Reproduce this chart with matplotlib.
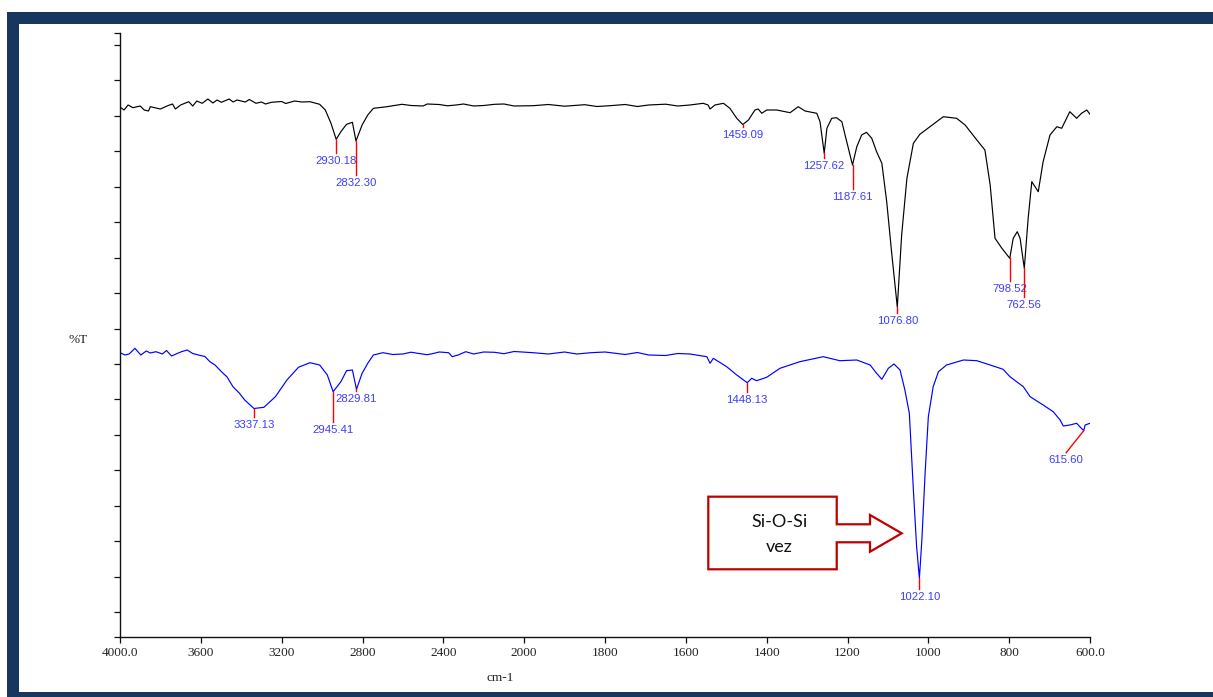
import numpy as np
import matplotlib
matplotlib.use("Agg")
import matplotlib.pyplot as plt
from matplotlib.patches import Rectangle, Polygon

# ---- spectra (wavenumber in cm-1, transmittance in arbitrary %T units) ----
black_wn = [4000, 3980, 3960, 3936, 3900, 3880, 3859, 3850, 3800, 3764, 3740, 3726,
            3700, 3660, 3640, 3620, 3593, 3565, 3540, 3520, 3498, 3460, 3440, 3421,
            3380, 3360, 3327, 3300, 3280, 3250, 3200, 3180, 3136, 3100, 3060, 3012,
            2984, 2956, 2930.18, 2907, 2879, 2850, 2832.30, 2802, 2774, 2746, 2679,
            2605, 2560, 2500, 2480, 2420, 2380, 2337, 2300, 2250, 2200, 2146, 2100,
            2050, 1978, 1940, 1900, 1883, 1850, 1820, 1788, 1750, 1720, 1692, 1650,
            1620, 1590, 1557,
            1545, 1540, 1528, 1507, 1491, 1474, 1459.09, 1445, 1429, 1421, 1412, 1400,
            1375, 1342, 1322, 1305, 1276, 1268, 1257.62, 1251, 1239, 1227, 1214, 1206,
            1187.61, 1177, 1165, 1153, 1140, 1128, 1115, 1103, 1091, 1076.80, 1066,
            1053, 1037, 1021, 996, 963, 930, 909, 880, 860, 847, 835, 818, 798.52, 790,
            780, 773, 762.56, 753, 744, 728, 716, 699, 682, 670, 650, 633, 621, 608, 600]
black_t = [530, 527, 532, 529.3, 531, 527, 526, 530.3, 528, 531.3, 533, 528,
           532, 535.3, 531, 536, 533.7, 538, 534, 537, 534.7, 538, 535, 537,
           535, 537.5, 533.7, 535, 533, 534.7, 535.5, 533.5, 536, 535, 535.3, 532.7,
           527, 513.7, 497.7, 505.3, 512.7, 514.7, 496, 512, 522, 528.7, 530.3,
           532.7, 531.5, 531, 533, 532.5, 531.2, 532, 533, 531, 531.5, 532.7, 533,
           531, 531.3, 532.5, 530.8, 531.3, 532.3, 530.5, 531.3, 532.5, 530.5, 532, 532.8,
           531, 532, 533.7,
           532, 528, 532, 533.7, 528.7, 518.7, 512.5, 517, 527, 528, 523.7, 527,
           527, 524.3, 530.3, 526, 523.7, 515.3, 483.7, 508.7, 518.7, 519.3, 515.3, 502,
           472, 490.3, 502, 504.7, 498.7, 485.3, 473.7, 435.3, 385.3, 330, 402,
           458.7, 493.7, 502.7, 510.3, 520.3, 518.7, 512, 497, 487, 452, 398.7, 388.7, 378.7, 398.7,
           405.3, 398.7, 368.7, 418.7, 455.3, 445.3, 475.3, 502, 510.3, 508.7, 525.3, 518.7, 523.7, 527, 522.7]

blue_wn = [4000, 3975, 3955, 3926, 3897, 3870, 3850, 3822, 3790, 3770, 3745, 3700,
           3668, 3640, 3612, 3580, 3555, 3530, 3498, 3470, 3441, 3410, 3383, 3337.13,
           3288, 3231, 3174, 3117,
           3060, 3012, 2974, 2945.41, 2907, 2879, 2850, 2829.81, 2802, 2774, 2746,
           2699, 2650, 2600, 2560, 2527, 2480, 2450, 2420, 2374, 2356, 2327, 2289,
           2250, 2200, 2146, 2100, 2050, 1978, 1940, 1900, 1870, 1835, 1800, 1750,
           1720, 1692, 1650, 1620,
           1590, 1548, 1540, 1532, 1499, 1474, 1448.13, 1437, 1425, 1400, 1367, 1318,
           1260, 1219, 1177, 1144, 1128, 1115, 1099, 1085, 1070, 1058, 1047, 1037,
           1029, 1022.10, 1016, 1008, 1000, 988, 975, 955, 913, 880, 847, 815, 798,
           765, 748, 716, 691, 674, 666, 650, 633, 615.60, 612, 600]
blue_t = [284.3, 282, 283, 288.7, 282, 286, 284, 285.3, 283, 286.5, 281, 285,
          287, 283.5, 282, 280.5, 275.3, 272, 265.3, 260, 250.3, 244, 237, 228.5,
          229.7, 240.3, 257, 269.7,
          274.3, 272, 262, 245.3, 255.3, 266.3, 267, 247.7, 263.7, 273.7, 282,
          284.3, 282.5, 283, 284.8, 283.7, 282.3, 283.5, 285, 284.3, 280.3, 282, 285.3,
          283, 285, 284.7, 283.3, 285.5, 284.3, 283, 285, 283, 284.3, 285, 282.5,
          284.5, 282, 281.5, 283.5,
          283, 280.3, 273.7, 278.7, 270.3, 262, 254.3, 258.7, 256.3, 259.7, 268.7, 275.3,
          280.3, 276.3, 277, 272, 263.7, 257.7, 268.7, 273, 267, 247, 223.7, 147,
          90.3, 58.7, 97, 163.7, 220.3, 250.3, 265.3, 272, 277, 276.3, 272, 267.7, 260.3,
          250.3, 240.3, 232, 225.3, 217, 211, 212, 213.7, 206.3, 212, 213.7]

# picked peaks and length of the red marker below each one
black_peaks = [2930.18, 2832.30, 1459.09, 1257.62, 1187.61, 1076.80, 798.52, 762.56]
black_drop = [14, 34, 2, 5, 24, 6, 23, 29]
blue_peaks = [3337.13, 2945.41, 2829.81, 1448.13, 1022.10]
blue_drop = [8, 30, 2, 9, 11]
side_peak = 615.60            # labelled with a slanted leader
side_leader = (659, 184.3)

xticks = [4000, 3600, 3200, 2800, 2400, 2000, 1800, 1600, 1400, 1200, 1000, 800, 600]
xtick_labels = ["4000.0", "3600", "3200", "2800", "2400", "2000", "1800", "1600",
                "1400", "1200", "1000", "800", "600.0"]


# region above 2000 cm-1 is compressed 2:1
def fwd(w):
    w = np.asarray(w, dtype=float)
    return np.where(w > 2000, 2000 + (w - 2000) / 2.0, w)


def inv(p):
    p = np.asarray(p, dtype=float)
    return np.where(p > 2000, 2000 + (p - 2000) * 2.0, p)


PEAK_BLUE = "#3c3cff"
NAVY = "#17375e"
SERIF = "Liberation Serif"
SANS = "Liberation Sans"

fig = plt.figure(figsize=(12.13, 6.97), dpi=100)
fig.patch.set_facecolor("white")

# dark frame around the slide
fig.add_artist(Rectangle((7 / 1213, 1 - 24 / 697), 1, 12 / 697, transform=fig.transFigure,
                         color=NAVY, lw=0, zorder=0))
fig.add_artist(Rectangle((7 / 1213, 0), 12 / 1213, 1 - 12 / 697, transform=fig.transFigure,
                         color=NAVY, lw=0, zorder=0))
fig.add_artist(Rectangle((7 / 1213, 0), 1, 5 / 697, transform=fig.transFigure,
                         color=NAVY, lw=0, zorder=0))

ax = fig.add_axes([120 / 1213, 60 / 697, 970 / 1213, 604 / 697])
ax.set_xscale("function", functions=(fwd, inv))
ax.set_xlim(4000, 600)
ax.set_ylim(0, 604)

ax.plot(black_wn, black_t, color="black", lw=0.85)
ax.plot(blue_wn, blue_t, color="#0000ff", lw=0.85)


def mark_peaks(wn, tr, peaks, drops, gap=8):
    order = np.argsort(wn)
    xs = np.asarray(wn)[order]
    ys = np.asarray(tr)[order]
    for p, d in zip(peaks, drops):
        tp = np.interp(p, xs, ys)
        ax.plot([p, p], [tp, tp - d], color="red", lw=1.0, zorder=3)
        ax.text(p, tp - d - gap, f"{p:.2f}", color=PEAK_BLUE, fontsize=8.2,
                family=SANS, ha="center", va="center")


mark_peaks(black_wn, black_t, black_peaks, black_drop)
mark_peaks(blue_wn, blue_t, blue_peaks, blue_drop)

tp = np.interp(side_peak, blue_wn[::-1], blue_t[::-1])
ax.plot([side_peak, side_leader[0]], [tp, side_leader[1]], color="red", lw=1.0)
ax.text(side_leader[0], side_leader[1] - 7.5, f"{side_peak:.2f}", color=PEAK_BLUE,
        fontsize=8.2, family=SANS, ha="center", va="center")

# axes styling
for s in ["top", "right"]:
    ax.spines[s].set_visible(False)
for s in ["left", "bottom"]:
    ax.spines[s].set_linewidth(1.0)
    ax.spines[s].set_color("#111111")

ax.xaxis.set_minor_locator(plt.NullLocator())
ax.set_xticks(xticks)
ax.set_xticklabels(xtick_labels, family=SERIF, fontsize=9.5, color="#222222")
ax.set_yticks(list(np.linspace(25, 592, 17)) + [0, 604])
ax.set_yticklabels([])
ax.tick_params(axis="both", direction="out", length=4, width=0.9, color="#111111", pad=3)

ax.set_xlabel("cm-1", family=SERIF, fontsize=9.5, color="#222222")
ax.xaxis.set_label_coords((500 - 120) / 970, -(672 - 637) / 604)
ax.set_ylabel("%T", family=SERIF, fontsize=9.5, color="#222222", rotation=0)
ax.yaxis.set_label_coords((78 - 120) / 970, (637 - 346) / 604)

# callout pointing at the Si-O-Si band
callout = [(0.6065, 0.2323), (0.7389, 0.2323), (0.7389, 0.1866), (0.7732, 0.1866),
           (0.7732, 0.2020), (0.8059, 0.1717), (0.7732, 0.1412), (0.7732, 0.1568),
           (0.7389, 0.1568), (0.7389, 0.1121), (0.6065, 0.1121)]
ax.add_patch(Polygon(callout, closed=True, transform=ax.transAxes, facecolor="white",
                     edgecolor="#c00000", lw=1.6, zorder=4))
ax.text(0.6797, 0.1909, "Si-O-Si", transform=ax.transAxes, family="Lato", fontsize=13,
        ha="center", va="center", color="#111111", zorder=5)
ax.text(0.6797, 0.1495, "vez", transform=ax.transAxes, family="Lato", fontsize=13,
        ha="center", va="center", color="#111111", zorder=5)

fig.savefig("out.png", dpi=100)
